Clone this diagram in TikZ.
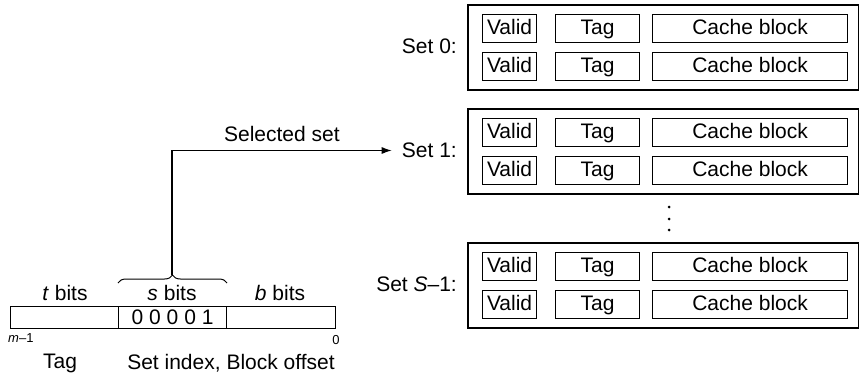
\documentclass[tikz,border=0pt]{standalone}
\usepackage{fontspec}
\setmainfont{Liberation Sans}
\usetikzlibrary{arrows.meta,decorations.pathreplacing}

\begin{document}
\begin{tikzpicture}[x=1pt,y=-1pt,>={Latex[length=10pt,width=7pt]},
  every node/.style={font=\fontsize{21}{24}\selectfont,inner sep=0pt},
  setbox/.style={draw,line width=1.6pt,minimum width=391pt,minimum height=85pt,anchor=north west},
  field/.style={draw,line width=1.2pt,minimum height=28pt,text height=15pt,text depth=4pt,anchor=north west},
  addr/.style={draw,line width=1.2pt,minimum height=22pt,text height=15pt,text depth=1pt,anchor=north west},
  small/.style={font=\fontsize{13}{15}\selectfont}]
\useasboundingbox (0,0) rectangle (859,376);
% the sets of the cache
\foreach \n/\y/\lab in {s0/4/{Set 0:},s1/108/{Set 1:},sS/242/{Set \textit{S}--1:}}{
  \node[setbox] (\n) at (467,\y) {};
  \node[anchor=east] (\n lab) at (457,\y+42.5) {\lab};
  \foreach \r/\dy in {a/10,b/48}{
    \node[field,minimum width=54pt] (\n\r v) at (482,\y+\dy) {Valid};
    \node[field,minimum width=84pt] (\n\r t) at (555,\y+\dy) {Tag};
    \node[field,minimum width=195pt] (\n\r c) at (652,\y+\dy) {Cache block};
  }
}
\foreach \yy in {207,219,230} \fill (669,\yy) circle (1.5pt);
% the address
\node[addr,minimum width=108pt] (tf) at (10,306) {};
\node[addr,minimum width=108pt] (sf) at (118,306) {0 0 0 0 1};
\node[addr,minimum width=109pt] (bf) at (226,306) {};
\node (tb) at (65,293) {\textit{t} bits};
\node (sb) at (172,293) {\textit{s} bits};
\node (bb) at (280,293) {\textit{b} bits};
\node[small,anchor=west] (hi) at (8,338) {\textit{m}--1};
\node[small] (lo) at (336,340) {0};
\node (tag) at (60,363) {Tag};
\node (rest) at (231,363) {Set index, Block offset};
\draw[decorate,decoration={brace,amplitude=8pt},line width=1pt] (118,283) -- (227,283);
\coordinate (tip) at (172,275);
\draw[->,line width=1.2pt] (tip) |- node[pos=0.75,above=8pt] {Selected set} ([xshift=-10pt]s1lab.west);
\end{tikzpicture}
\end{document}
